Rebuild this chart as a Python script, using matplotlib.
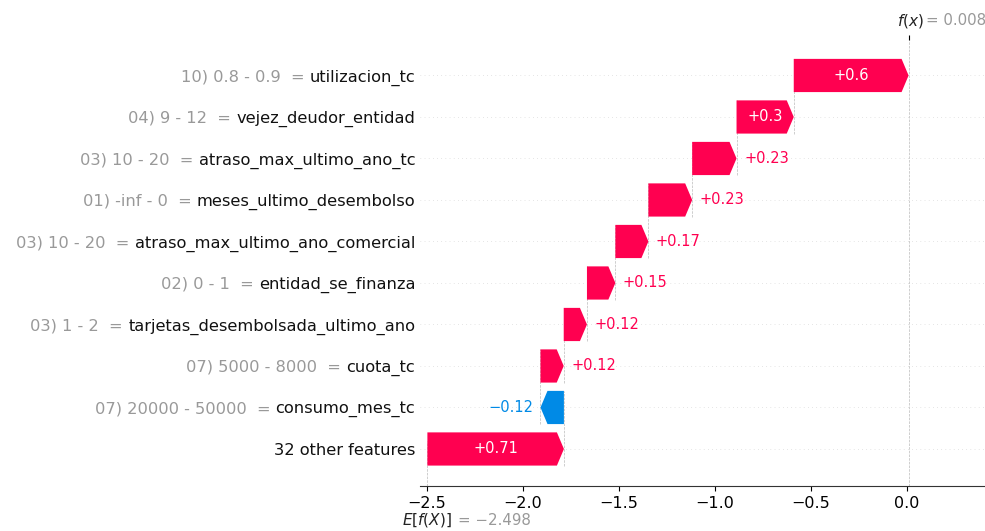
import matplotlib
matplotlib.use('Agg')
import numpy as np
import matplotlib.pyplot as plt

# data (top row first)
feat_values = ["10) 0.8 - 0.9", "04) 9 - 12", "03) 10 - 20", "01) -inf - 0",
               "03) 10 - 20", "02) 0 - 1", "03) 1 - 2", "07) 5000 - 8000",
               "07) 20000 - 50000"]
feat_names = ["utilizacion_tc", "vejez_deudor_entidad", "atraso_max_ultimo_ano_tc",
              "meses_ultimo_desembolso", "atraso_max_ultimo_ano_comercial",
              "entidad_se_finanza", "tarjetas_desembolsada_ultimo_ano", "cuota_tc",
              "consumo_mes_tc"]
shap_values = [0.598, 0.298, 0.231, 0.228, 0.172, 0.148, 0.121, 0.121, -0.122]
other_label = "32 other features"
other_value = 0.711
base_value = -2.498
fx_value = 0.008
xticks = [-2.5, -2.0, -1.5, -1.0, -0.5, 0.0]

red = (1.0, 0.0, 0.3137)
blue = (0.0, 0.5412, 0.9020)
DPI = 100


def fmt(v, plus=True):
    s = ("%+0.02f" if plus else "%0.03f") % v
    if plus:
        s = s.rstrip('0').rstrip('.')
    return s.replace('-', '\u2212')


fig = plt.figure(figsize=(9.85, 5.31), dpi=DPI)
ax = fig.add_axes([420/985, 45/531, 565/985, 446/531])
ax.set_xlim(-2.5365, 0.406)
ax.set_ylim(-0.892, 9.855)

# bottom-up order: other features first, then the listed ones
vals = [other_value] + shap_values[::-1]
n = len(vals)
lefts = []
loc = base_value
for v in vals:
    lefts.append(loc)
    loc += v

bbox = ax.get_window_extent()
xscale = (ax.get_xlim()[1] - ax.get_xlim()[0]) / bbox.width
hl = 7 * xscale
renderer = fig.canvas.get_renderer()

for i in range(n):
    ax.axhline(i, color="#cccccc", lw=0.5, dashes=(1, 5), zorder=-1)

for i, (left, v) in enumerate(zip(lefts, vals)):
    col = red if v >= 0 else blue
    if v >= 0:
        arr = ax.arrow(left, i, max(v - hl, 1e-6), 0, head_length=min(v, hl),
                       width=0.8, head_width=0.8, color=col, lw=0)
    else:
        arr = ax.arrow(left, i, -max(-v - hl, 1e-6), 0, head_length=min(-v, hl),
                       width=0.8, head_width=0.8, color=col, lw=0)
    txt = ax.text(left + 0.5 * v, i, fmt(v), ha='center', va='center',
                  color='white', fontsize=10.5)
    tb = txt.get_window_extent(renderer=renderer)
    ab = arr.get_window_extent(renderer=renderer)
    if tb.width > ab.width:
        txt.remove()
        if v >= 0:
            ax.text(left + v + 7.5 * xscale, i, fmt(v), ha='left', va='center',
                    color=col, fontsize=10.5)
        else:
            ax.text(left + v - 7.5 * xscale, i, fmt(v), ha='right', va='center',
                    color=col, fontsize=10.5)
    # connector to the row below
    if i > 0:
        ax.plot([left, left], [i - 1 - 0.4, i + 0.4], color="#bbbbbb",
                linestyle="--", linewidth=0.5, zorder=-1)

ax.axvline(base_value, 0, 1 / n, color="#bbbbbb", linestyle="--", linewidth=0.5, zorder=-1)
ax.axvline(fx_value, 0, 1, color="#bbbbbb", linestyle="--", linewidth=0.5, zorder=-1)

# y labels: black feature names, grey "value =" in front of them
black_labels = [other_label] + feat_names[::-1]
gray_parts = [""] + [fv + "  =" for fv in feat_values][::-1]
ax.set_yticks(range(n))
ax.set_yticklabels(black_labels, fontsize=11.7, color='#111111')
ax.yaxis.set_ticks_position('none')
ax.tick_params(axis='y', pad=0)

ax.set_xticks(xticks)
ax.set_xticklabels([("%.1f" % t).replace('-', '\u2212') for t in xticks], fontsize=11.5)
ax.xaxis.set_ticks_position('bottom')
for s in ['right', 'top', 'left']:
    ax.spines[s].set_visible(False)
ax.spines['bottom'].set_color('#333333')

fig.canvas.draw()
ax_x0 = ax.get_window_extent().x0
space_px = 0.318 * 11.7 * DPI / 72
for lab, g, yi in zip(ax.get_yticklabels(), gray_parts, range(n)):
    if not g:
        continue
    bb = lab.get_window_extent(renderer=renderer)
    dx = (bb.x0 - ax_x0 - space_px) * 72 / DPI
    ax.annotate(g, xy=(0, yi), xycoords=('axes fraction', 'data'),
                xytext=(dx, 0), textcoords='offset points', ha='right',
                va='center_baseline', fontsize=11.7, color='#999999')

# f(x) tick on top
ax3 = ax.twiny()
ax3.set_xlim(ax.get_xlim())
ax3.set_xticks([fx_value])
ax3.set_xticklabels([""])
for s in ax3.spines.values():
    s.set_visible(False)
ax.annotate("$f(x)$", xy=(fx_value, 1), xycoords=('data', 'axes fraction'),
            xytext=(-8, 14), textcoords='offset points', ha='left', va='center',
            fontsize=11, color='#222222')
ax.annotate("= " + fmt(fx_value, plus=False), xy=(fx_value, 1),
            xycoords=('data', 'axes fraction'),
            xytext=(12.5, 14), textcoords='offset points', ha='left', va='center',
            fontsize=10.8, color='#999999')

# E[f(X)] under the axis
ax.annotate("$E[f(X)]$", xy=(base_value, 0), xycoords=('data', 'axes fraction'),
            xytext=(-18.5, -24.5), textcoords='offset points', ha='left', va='center',
            fontsize=11, color='#222222')
ax.annotate("= " + fmt(base_value, plus=False), xy=(base_value, 0),
            xycoords=('data', 'axes fraction'),
            xytext=(22, -25), textcoords='offset points', ha='left', va='center',
            fontsize=10.8, color='#999999')

fig.savefig("out.png", dpi=DPI)
